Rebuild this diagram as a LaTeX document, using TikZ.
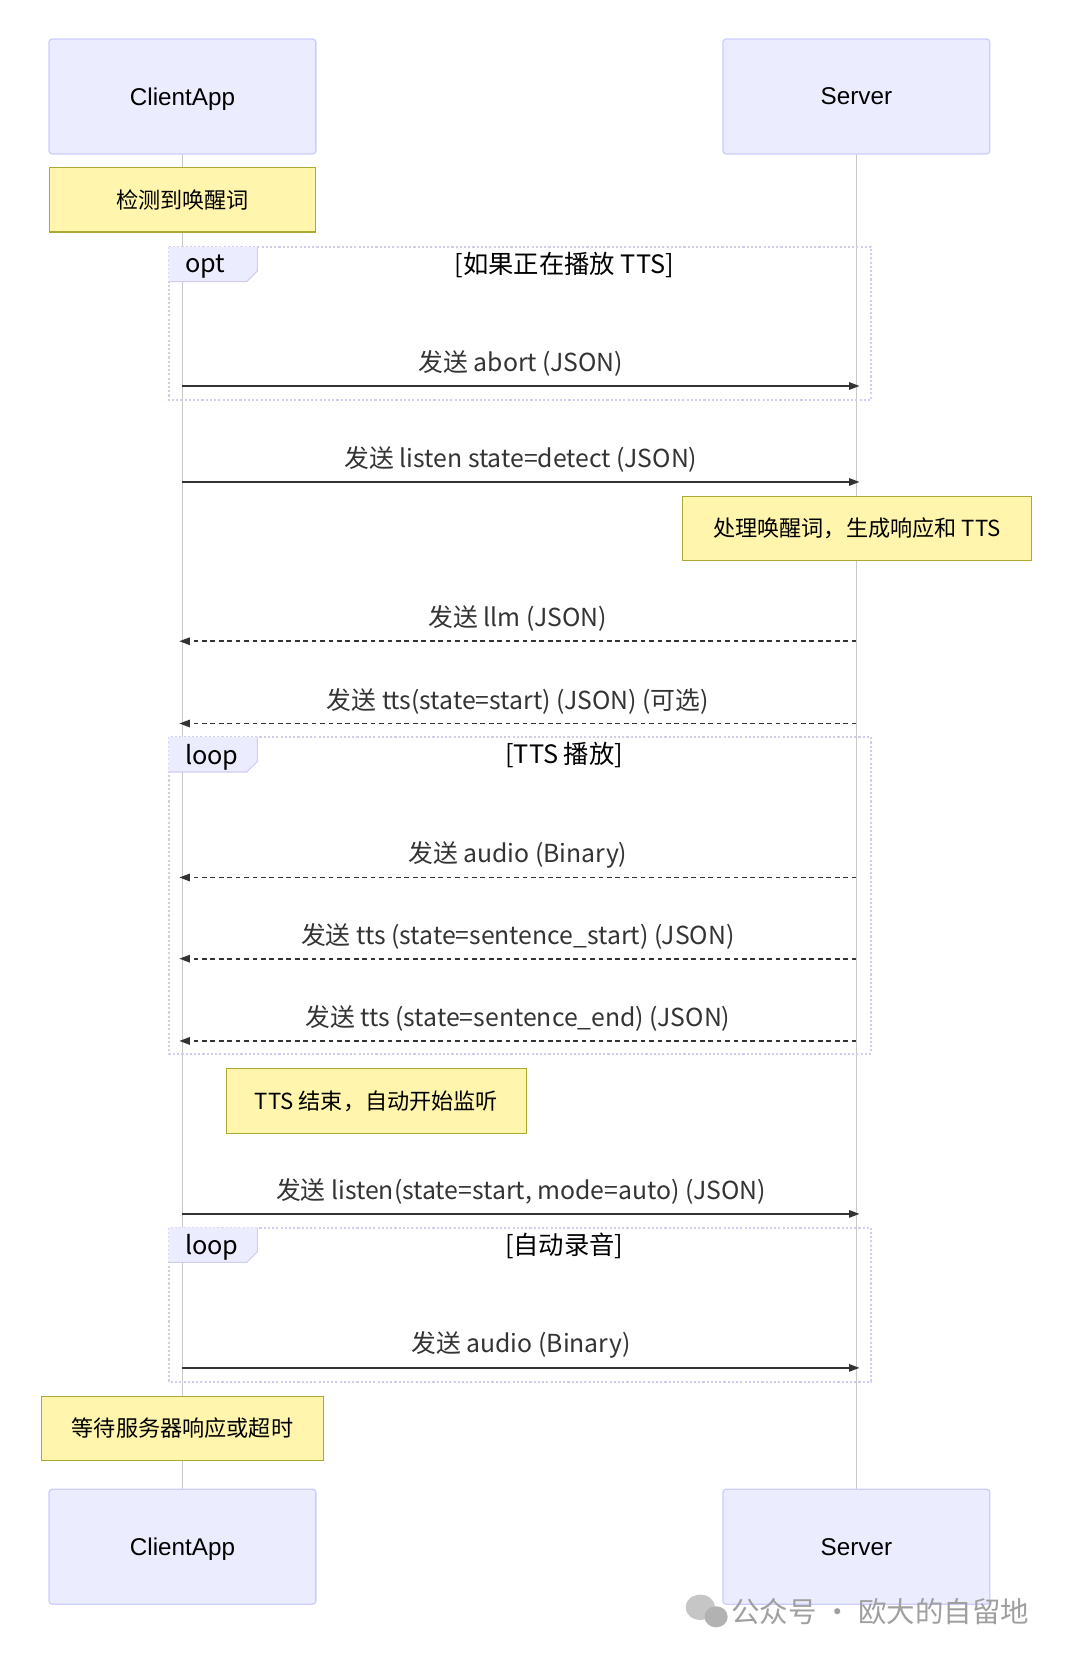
\documentclass[tikz,border=0pt]{standalone}
\usepackage{fontspec}
\setmainfont{Liberation Sans}
\newfontfamily\cjk{Noto Sans CJK SC}
\usetikzlibrary{arrows.meta}
\definecolor{actfill}{HTML}{ECECFF}
\definecolor{actdraw}{HTML}{CCCCFF}
\definecolor{notefill}{HTML}{FFF5AD}
\definecolor{notedraw}{HTML}{AAAA33}
\definecolor{lifel}{HTML}{C8C8C8}
\definecolor{msgc}{HTML}{333333}
\definecolor{framec}{HTML}{D2CDF0}
\tikzset{
  x=1pt,y=-1pt,
  actor/.style={draw=actdraw,fill=actfill,rounded corners=3pt,line width=1.2pt,minimum width=253pt,minimum height=109pt,font=\fontsize{23}{26}\selectfont,text depth=0pt},
  notebox/.style={draw=notedraw,fill=notefill,line width=1pt,minimum height=61pt,font=\cjk\fontsize{21}{24}\selectfont,inner xsep=14pt},
  msgtext/.style={font=\cjk\fontsize{23.5}{27}\selectfont,text=msgc},
  frametext/.style={font=\cjk\fontsize{24}{27}\selectfont,text=black},
  solidmsg/.style={draw=msgc,line width=1.6pt,-{Triangle[length=10pt,width=7pt]}},
  dashmsg/.style={draw=msgc,line width=1.6pt,dash pattern=on 4.5pt off 3.5pt,-{Triangle[length=10pt,width=7pt]}},
  frame/.style={draw=framec,line width=2pt,dotted},
  lline/.style={draw=lifel,line width=1pt},
}
\begin{document}
\begin{tikzpicture}
\useasboundingbox (0,0) rectangle (1024,1592);
\coordinate (ct) at (173,146); \coordinate (cb) at (173,1412);
\coordinate (st) at (812,146); \coordinate (sb) at (812,1412);
\draw[lline] (ct) -- (cb);
\draw[lline] (st) -- (sb);
\node[actor] (c1) at (173,91.5) {ClientApp};
\node[actor] (s1) at (812,91.5) {Server};
\node[actor] (c2) at (173,1466.5) {ClientApp};
\node[actor] (s2) at (812,1466.5) {Server};
\node[notebox,minimum width=253pt] (n1) at (173,189.5) {检测到唤醒词};
\node[notebox,minimum width=331pt] (n2) at (812.5,501) {处理唤醒词，生成响应和 TTS};
\node[notebox,minimum width=284pt] (n3) at (357,1044) {TTS 结束，自动开始监听};
\node[notebox,minimum width=268pt] (n4) at (173,1354.5) {等待服务器响应或超时};
\newcommand{\lframe}[4]{%
  \draw[frame] (160,#1) rectangle (826,#2);
  \fill[actfill] (160,#1) -- (244,#1) -- (244,#1+23) -- (234,#1+33) -- (160,#1+33) -- cycle;
  \draw[framec,line width=1pt] (244,#1) -- (244,#1+23) -- (234,#1+33) -- (160,#1+33);
  \node[frametext,anchor=west] at (172,#1+19) {#3};
  \node[frametext] at (535,#1+17) {#4};}
\lframe{234}{379}{opt}{[如果正在播放 TTS]}
\lframe{699}{999}{loop}{[TTS 播放]}
\lframe{1164}{1310}{loop}{[自动录音]}
\foreach \n/\y in {a/366,b/457,c/608,d/686,e/832,f/909,g/987,h/1151,i/1297}{
  \coordinate (cl\n) at (173,\y); \coordinate (sl\n) at (815,\y);
  \coordinate (cr\n) at (170,\y); \coordinate (sr\n) at (812,\y);}
\tikzset{lab/.style={msgtext,above=5pt}}
\draw[solidmsg] (cla) -- node[lab] {发送 abort (JSON)} (sla);
\draw[solidmsg] (clb) -- node[lab] {发送 listen state=detect (JSON)} (slb);
\draw[dashmsg] (src) -- node[lab] {发送 llm (JSON)} (crc);
\draw[dashmsg] (srd) -- node[lab] {发送 tts(state=start) (JSON) (可选)} (crd);
\draw[dashmsg] (sre) -- node[lab] {发送 audio (Binary)} (cre);
\draw[dashmsg] (srf) -- node[lab] {发送 tts (state=sentence\_start) (JSON)} (crf);
\draw[dashmsg] (srg) -- node[lab] {发送 tts (state=sentence\_end) (JSON)} (crg);
\draw[solidmsg] (clh) -- node[lab] {发送 listen(state=start, mode=auto) (JSON)} (slh);
\draw[solidmsg] (cli) -- node[lab] {发送 audio (Binary)} (sli);
\fill[gray!45] (664,1524) ellipse (14pt and 12pt);
\fill[gray!60] (679,1533) ellipse (11pt and 10pt);
\node[font=\cjk\fontsize{27}{30}\selectfont,text=gray!75,anchor=west] (wm) at (690,1528) {公众号 · 欧大的自留地};
\end{tikzpicture}
\end{document}
